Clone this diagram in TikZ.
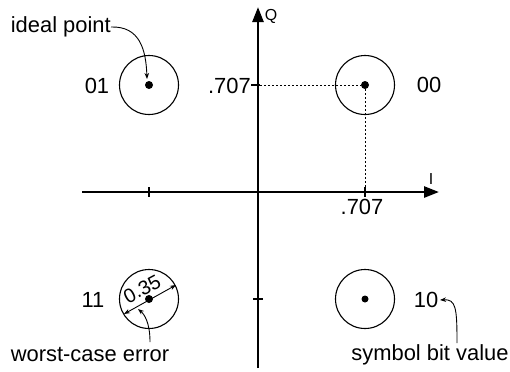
\documentclass[tikz,border=0pt]{standalone}
\usepackage{fontspec}
\setmainfont{Liberation Sans}
\usetikzlibrary{arrows.meta}
\begin{document}
\begin{tikzpicture}[x=1bp,y=-1bp,
  lbl/.style={font=\fontsize{22}{24}\selectfont, inner sep=0pt},
  axlbl/.style={font=\fontsize{16}{18}\selectfont, inner sep=0pt},
  ring/.style={circle, draw, line width=1.1bp, minimum size=59bp, inner sep=0pt},
  pt/.style={circle, fill, minimum size=8bp, inner sep=0pt},
  axisline/.style={line width=2.6bp, -{Triangle[length=15bp,width=11bp]}},
  note/.style={line width=0.9bp, -{Stealth[length=6bp,width=4.5bp]}},
  guide/.style={line width=1bp, dash pattern=on 2bp off 2bp},
  tickmark/.style={line width=1.3bp}]
\useasboundingbox (0,0) rectangle (510,371);
% axes
\coordinate (xl) at (82,192);
\coordinate (xr) at (439,192);
\coordinate (yb) at (258,368);
\coordinate (yt) at (258,7);
\draw[axisline] (xl) -- (xr);
\draw[axisline] (yb) -- (yt);
\node[axlbl] (Q) at (271,16) {Q};
\node[axlbl] (I) at (431,179) {I};
% points
\node[ring] (c00) at (365,85) {};
\node[ring] (c01) at (149,85) {};
\node[ring] (c11) at (149,299) {};
\node[ring] (c10) at (365,299) {};
\node[pt] (d00) at (365,85) {};
\node[pt] (d01) at (149,85) {};
\node[pt] (d11) at (149,299) {};
\node[pt, minimum size=7bp] (d10) at (365,299) {};
% ticks
\coordinate (t1a) at (149,187); \coordinate (t1b) at (149,197);
\coordinate (t2a) at (365,187); \coordinate (t2b) at (365,197);
\coordinate (t3a) at (253,299); \coordinate (t3b) at (263,299);
\draw[tickmark] (t1a) -- (t1b);
\draw[tickmark] (t2a) -- (t2b);
\draw[tickmark] (t3a) -- (t3b);
% .707 labels and guides
\node[lbl, anchor=east] (qv) at (251,86) {.707};
\node[lbl] (iv) at (362,207) {.707};
\coordinate (qa) at (260,85);
\coordinate (ia) at (365,187);
\draw[tickmark] (qv.east |- qa) -- (qa);
\draw[guide] (qa) -- (d00);
\draw[guide] (d00) -- (ia);
% symbol labels
\node[lbl] (l01) at (97,86) {01};
\node[lbl] (l00) at (429,85) {00};
\node[lbl] (l11) at (93,300) {11};
\node[lbl] (l10) at (426,300) {10};
% worst case error arrow
\coordinate (wa) at (124,314);
\coordinate (wb) at (176,285);
\draw[line width=0.9bp, {Stealth[length=6bp,width=4.5bp]}-{Stealth[length=6bp,width=4.5bp]}] (wa) -- (wb);
\node[font=\fontsize{20}{22}\selectfont, inner sep=0pt, rotate=28] (r) at (142,289) {0.35};
% annotations
\node[lbl, anchor=east] (ip) at (111,27) {ideal point};
\node[lbl] (wce) at (90,355) {worst-case error};
\node[lbl] (sbv) at (430,355) {symbol bit value};
\coordinate (ipend) at (147,79);
\draw[note] (ip.east) .. controls (140,26) and (146,50) .. (ipend);
\coordinate (ws) at (150,342);
\coordinate (we) at (138,309);
\draw[note] (ws) .. controls (150,322) and (144,314) .. (we);
\coordinate (ss) at (457,343);
\coordinate (se) at (440,300);
\draw[note] (ss) .. controls (457,308) and (456,299) .. (se);
\end{tikzpicture}
\end{document}
